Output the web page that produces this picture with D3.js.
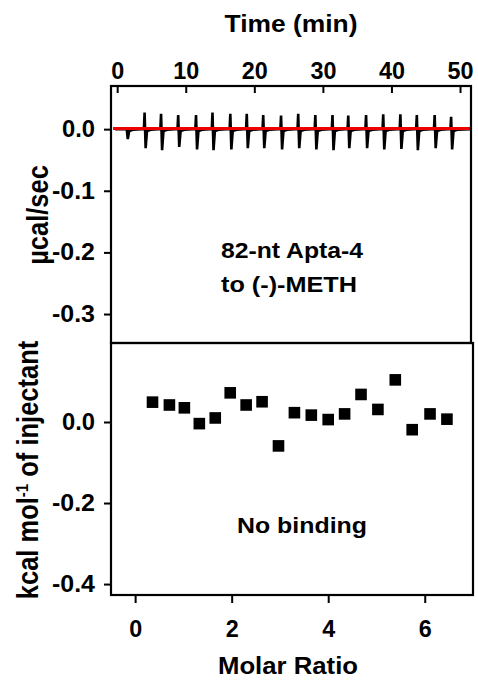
<!DOCTYPE html>
<html>
<head>
<meta charset="utf-8">
<script src="https://cdn.jsdelivr.net/npm/d3@7"></script>
<style>
  body { margin: 0; background: #fff; }
  svg { display: block; font-family: "Liberation Sans", Arial, sans-serif; font-weight: bold; }
</style>
</head>
<body>
<svg id="chart" width="478" height="680"></svg>
<script>
// tick labels
var timeTicks = [0, 10, 20, 30, 40, 50];
var rawTicks = [0, -0.1, -0.2, -0.3];
var molarTicks = [0, 2, 4, 6];
var heatTicks = [0, -0.2, -0.4];

// raw thermogram: injection times (min) and spike extremes (µcal/sec)
var injTime = [1.4, 4.0, 6.4, 8.9, 11.5, 13.9, 16.5, 18.9, 21.3, 23.9, 26.4, 28.9, 31.4, 33.7, 36.3, 38.8, 41.3, 43.7, 46.3, 48.7];
var injUp = [0.0, 0.027, 0.025, 0.023, 0.023, 0.027, 0.025, 0.025, 0.023, 0.022, 0.025, 0.023, 0.023, 0.022, 0.023, 0.024, 0.024, 0.023, 0.023, 0.020];
var injDown = [-0.016, -0.031, -0.034, -0.029, -0.033, -0.034, -0.033, -0.031, -0.031, -0.033, -0.031, -0.033, -0.034, -0.031, -0.031, -0.033, -0.032, -0.034, -0.031, -0.033];

// baseline fit (red)
var fitTime = [-0.6, 51.6];
var fitValue = [0.001, 0.001];

// integrated heats
var molarRatio = [0.36, 0.71, 1.02, 1.33, 1.66, 1.97, 2.30, 2.63, 2.97, 3.30, 3.65, 4.00, 4.34, 4.68, 5.03, 5.39, 5.74, 6.11, 6.46];
var heat = [0.049, 0.042, 0.035, -0.004, 0.010, 0.072, 0.042, 0.050, -0.059, 0.023, 0.017, 0.006, 0.020, 0.068, 0.031, 0.104, -0.019, 0.020, 0.007];

var svg = d3.select('#chart');
var fmt = function (d) { return d3.format('.1f')(d).replace('\u2212', '-'); };

var xTime = d3.scaleLinear().domain([-0.9, 51.6]).range([111, 471]);
var yRaw = d3.scaleLinear().domain([0.07, -0.347]).range([86, 343]);
var xMolar = d3.scaleLinear().domain([-0.5, 7.0]).range([111, 473]);
var yHeat = d3.scaleLinear().domain([0.195, -0.427]).range([343, 595]);

// the figure text is drawn wider than Arial, so stretch each label
function charWidth(ch) {
    if (ch === '.') return 7;
    if (ch === '-') return 10;
    return 13;
}

function styleAxis(g) {
    g.select('.domain').remove();
    g.attr('font-size', null).attr('font-family', null);
    g.selectAll('line').attr('stroke', '#000').attr('stroke-width', 2);
    g.selectAll('text')
        .attr('fill', '#000')
        .style('font-size', '23px')
        .attr('lengthAdjust', 'spacingAndGlyphs')
        .attr('textLength', function () {
            return d3.sum(this.textContent.split(''), charWidth);
        });
}

function label(x, y, txt, size, anchor, len) {
    return svg.append('text')
        .attr('x', x).attr('y', y)
        .attr('text-anchor', anchor)
        .attr('textLength', len)
        .attr('lengthAdjust', 'spacingAndGlyphs')
        .style('font-size', size + 'px')
        .text(txt);
}

// top panel
var trace = [[-0.3, 0]];
injTime.forEach(function (t, i) {
    trace.push([t - 0.1, 0]);
    trace.push([t, injUp[i]]);
    trace.push([t + 0.15, injDown[i]]);
    trace.push([t + 0.35, -0.003]);
    trace.push([t + 0.9, -0.001]);
});
trace.push([51.5, 0]);

svg.append('path')
    .datum(trace)
    .attr('fill', 'none')
    .attr('stroke', '#000')
    .attr('stroke-width', 2.6)
    .attr('d', d3.line().x(function (d) { return xTime(d[0]); }).y(function (d) { return yRaw(d[1]); }));

svg.append('path')
    .datum(fitTime.map(function (t, i) { return [t, fitValue[i]]; }))
    .attr('fill', 'none')
    .attr('stroke', '#ee0000')
    .attr('stroke-width', 2.8)
    .attr('d', d3.line().x(function (d) { return xTime(d[0]); }).y(function (d) { return yRaw(d[1]); }));

svg.append('g')
    .attr('transform', 'translate(0,86)')
    .call(d3.axisTop(xTime).tickValues(timeTicks).tickSize(-7).tickPadding(7))
    .call(styleAxis);

svg.append('g')
    .attr('transform', 'translate(111,0)')
    .call(d3.axisLeft(yRaw).tickValues(rawTicks).tickFormat(fmt).tickSize(7).tickPadding(9))
    .call(styleAxis);

svg.append('rect')
    .attr('x', 111).attr('y', 86)
    .attr('width', 360).attr('height', 257)
    .attr('fill', 'none').attr('stroke', '#000').attr('stroke-width', 2.2);

// bottom panel
svg.append('g')
    .selectAll('rect')
    .data(molarRatio)
    .join('rect')
    .attr('x', function (d) { return xMolar(d) - 5.8; })
    .attr('y', function (d, i) { return yHeat(heat[i]) - 5.8; })
    .attr('width', 11.6)
    .attr('height', 11.6)
    .attr('fill', '#000');

svg.append('g')
    .attr('transform', 'translate(0,595)')
    .call(d3.axisBottom(xMolar).tickValues(molarTicks).tickFormat(d3.format('d')).tickSize(8).tickPadding(18))
    .call(styleAxis);

svg.append('g')
    .attr('transform', 'translate(111,0)')
    .call(d3.axisLeft(yHeat).tickValues(heatTicks).tickFormat(fmt).tickSize(7).tickPadding(9))
    .call(styleAxis);

svg.append('rect')
    .attr('x', 111).attr('y', 343)
    .attr('width', 362).attr('height', 252)
    .attr('fill', 'none').attr('stroke', '#000').attr('stroke-width', 2.2);

// titles
label(291, 32, 'Time (min)', 23, 'middle', 133);
label(288, 674, 'Molar Ratio', 23, 'middle', 140);

svg.append('g')
    .attr('transform', 'translate(48,215) rotate(-90) scale(1,1.15)')
    .append('text')
    .attr('text-anchor', 'middle')
    .style('font-size', '25.5px')
    .text('\u00b5cal/sec');

var kcal = svg.append('g')
    .attr('transform', 'translate(38,470) rotate(-90) scale(1,1.15)')
    .append('text')
    .attr('text-anchor', 'middle')
    .style('font-size', '25.5px');
kcal.append('tspan').text('kcal mol');
kcal.append('tspan').attr('dy', -9).style('font-size', '15px').text('-1');
kcal.append('tspan').attr('dy', 9).text(' of injectant');

// annotations
label(221, 258, '82-nt Apta-4', 22.5, 'start', 142);
label(221, 292, 'to (-)-METH', 22.5, 'start', 136);
label(302, 533, 'No binding', 22.5, 'middle', 130);
</script>
</body>
</html>
